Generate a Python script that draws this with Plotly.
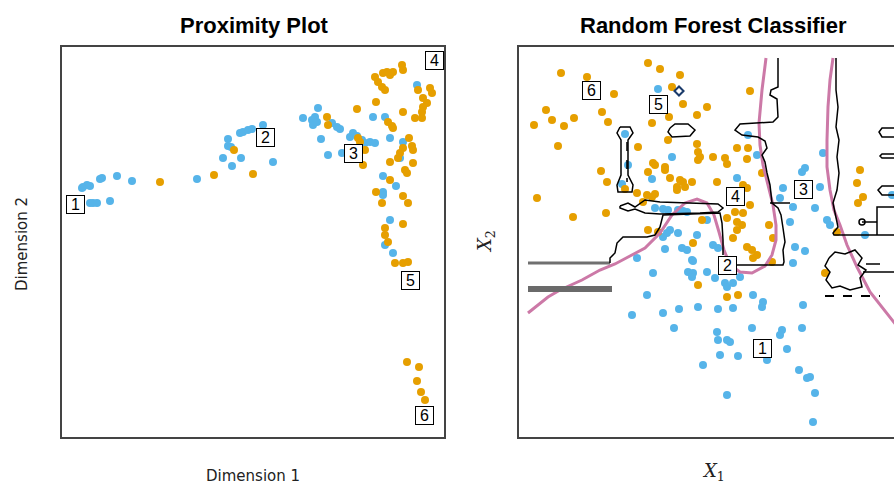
import plotly.graph_objects as go

W, H = 894, 486
BLUE = "#56B4E9"
ORANGE = "#E69F00"
PINK = "#CC79A7"

# ---------------- Proximity plot (MDS of RF proximities) ----------------
prox_blue_x = [21, 25, 28, 20, 40, 38, 55, 70, 31, 35, 28, 48, 135, 170, 161, 179, 166, 169,
               166, 178, 181, 186, 190, 201, 211, 241, 250, 253, 256, 251, 255, 270, 275, 278,
               259, 266, 280, 288, 291, 295, 300, 303, 308, 313, 311, 355, 323, 328, 341, 338,
               321, 334, 321, 321, 328, 323, 331]
prox_blue_y = [250, 252, 251, 249, 259, 258, 261, 256, 234, 234, 234, 236, 258, 271, 279, 279, 291, 290,
               298, 304, 305, 307, 308, 312, 275, 319, 317, 320, 329, 312, 315, 314, 310, 308,
               298, 282, 284, 300, 304, 301, 297, 294, 295, 294, 320, 352, 320, 299, 295, 279,
               261, 251, 245, 242, 217, 192, 184]
prox_orange_x = [98, 152, 191, 172, 265, 266, 296, 298, 303, 295, 301, 313, 316, 321, 325, 328, 331,
                 340, 341, 320, 323, 314, 356, 368, 370, 361, 365, 361, 360, 353, 360, 341, 326, 330,
                 331, 347, 350, 351, 341, 338, 336, 328, 351, 343, 345, 314, 328, 320, 341, 346, 341,
                 323, 323, 326, 333, 341, 346, 345, 357, 355, 359, 363]
prox_orange_y = [255, 262, 263, 287, 320, 312, 299, 295, 287, 328, 272, 360, 355, 364, 365, 362, 365,
                 372, 367, 350, 347, 335, 347, 349, 344, 339, 334, 330, 325, 319, 319, 325, 315, 311,
                 309, 299, 291, 287, 289, 284, 279, 275, 274, 267, 264, 245, 257, 234, 241, 234, 213,
                 209, 202, 195, 174, 174, 175, 75, 70, 56, 45, 37]
prox_label_x = [13, 203, 291, 372, 348, 362]
prox_label_y = [232, 299, 283, 376, 157, 22]
prox_label_text = ["1", "2", "3", "4", "5", "6"]

# ---------------- Random forest classifier on (X1, X2) ----------------
rf_blue_x = [139, 106, 153, 133, 109, 103, 159, 164, 149, 148, 159, 178, 229, 238, 218, 188, 264,
             261, 274, 271, 296, 301, 283, 286, 304, 308, 311, 346, 136, 144, 168, 151, 144, 163,
             168, 146, 118, 173, 199, 134, 169, 174, 173, 188, 196, 206, 208, 214, 128, 179, 234,
             244, 243, 214, 174, 113, 144, 160, 155, 184, 194, 221, 199, 274, 276, 286, 284, 283,
             233, 263, 261, 198, 199, 208, 211, 268, 201, 219, 248, 280, 288, 291, 296, 208, 294, 373]
rf_blue_y = [348, 303, 280, 258, 272, 253, 227, 226, 227, 204, 204, 202, 302, 282, 259, 217, 249,
             239, 230, 215, 229, 250, 265, 269, 284, 217, 212, 202, 229, 228, 225, 207, 200, 189,
             187, 188, 179, 177, 189, 164, 165, 164, 160, 165, 159, 154, 150, 154, 142, 130, 142,
             135, 130, 129, 176, 122, 124, 128, 109, 72, 192, 160, 128, 174, 190, 186, 132, 109,
             109, 107, 102, 105, 97, 97, 95, 88, 82, 81, 77, 67, 59, 60, 44, 42, 15, 242]
rf_orange_x = [42, 68, 129, 141, 161, 95, 27, 33, 45, 55, 15, 83, 89, 39, 153, 164, 150, 178, 133,
               149, 178, 179, 119, 136, 146, 82, 129, 151, 158, 164, 166, 179, 18, 54, 87, 128, 133,
               136, 124, 106, 118, 129, 183, 231, 188, 194, 206, 208, 218, 229, 228, 243, 198, 224,
               228, 231, 216, 224, 208, 218, 223, 250, 214, 341, 338, 344, 339, 318, 134, 146, 181,
               88, 161, 173, 158, 218, 254, 174, 228, 233, 238, 234, 179, 208, 219, 139, 253, 306]
rf_orange_y = [364, 360, 374, 368, 362, 343, 327, 317, 311, 319, 312, 325, 315, 291, 350, 333, 320,
               322, 314, 297, 293, 285, 290, 272, 270, 266, 265, 259, 250, 255, 250, 277, 239, 220,
               224, 242, 240, 243, 235, 248, 244, 207, 217, 346, 330, 280, 279, 273, 289, 289, 278,
               264, 255, 252, 249, 232, 225, 224, 219, 215, 212, 212, 199, 267, 254, 240, 234, 205,
               274, 267, 280, 255, 257, 255, 247, 207, 199, 194, 190, 187, 182, 179, 152, 140, 142,
               205, 175, 164]
rf_label_x = [72, 139, 216, 284, 208, 243]
rf_label_y = [346, 332, 240, 247, 172, 89]
rf_label_text = ["6", "5", "4", "3", "2", "1"]

# Bayes decision boundary
bayes_a_x = [247, 243, 240, 241, 244, 249, 254, 257, 257, 253, 246, 233, 221, 211, 205, 200, 195,
             188, 178, 166, 153, 141, 126, 111, 96, 81, 63, 41, 29, 9]
bayes_a_y = [379, 347, 314, 292, 272, 252, 232, 212, 197, 182, 171, 164, 165, 172, 187, 205, 222,
             234, 238, 234, 222, 204, 189, 181, 173, 167, 157, 147, 140, 124]
bayes_b_x = [314, 311, 309, 308, 308, 311, 315, 321, 328, 338, 351, 368, 381]
bayes_b_y = [379, 357, 330, 297, 270, 247, 227, 212, 192, 170, 145, 124, 107]

# Random forest decision boundary (0.5 contour pieces)
rf_main_x = [259, 259, 252, 251, 258, 259, 254, 221, 216, 223, 239, 246, 248, 243, 246, 248, 251,
             253, 259, 262, 264, 266, 264, 265, 264, 218]
rf_main_y = [379, 350, 347, 342, 338, 320, 315, 313, 307, 302, 300, 296, 289, 282, 275, 264, 252,
             234, 229, 222, 209, 195, 187, 175, 172, 172]
rf_tick_x = [251, 271]
rf_tick_y = [234, 234]
rf_mid_x = [204, 204, 203, 201, 144, 141, 136, 128, 104, 98, 96, 91, 91]
rf_mid_y = [182, 197, 214, 224, 222, 210, 202, 200, 200, 194, 184, 179, 174]
rf_bar_x = [101, 109, 116, 126, 141, 181, 199, 204, 199, 181, 141, 126, 116, 109, 101, 101]
rf_bar_y = [231, 234, 230, 237, 235, 234, 233, 229, 225, 224, 223, 224, 228, 226, 229, 231]
rf_col_x = [101, 111, 114, 109, 109, 114, 113, 99, 98, 102, 102, 98, 101]
rf_col_y = [310, 310, 304, 297, 262, 252, 245, 245, 252, 262, 297, 304, 310]
rf_blob_x = [151, 156, 169, 176, 171, 153, 149, 151]
rf_blob_y = [309, 313, 313, 307, 301, 300, 305, 309]
rf_right_x = [317, 317, 319, 317, 320, 318, 320, 318, 314, 318, 319, 314, 315, 375]
rf_right_y = [379, 347, 330, 310, 297, 280, 264, 247, 234, 217, 210, 204, 202, 202]
rf_branch_x = [358, 358, 375]
rf_branch_y = [202, 230, 230]
rf_stem_x = [343, 358]
rf_stem_y = [215, 215]
rf_stub1_x = [375, 363, 360, 363, 375]
rf_stub1_y = [309, 309, 305, 300, 300]
rf_stub2_x = [375, 363, 361, 363, 375]
rf_stub2_y = [283, 283, 281, 279, 279]
rf_stub3_x = [375, 363, 359, 363, 375]
rf_stub3_y = [251, 251, 247, 242, 242]
rf_cloud_x = [310, 316, 326, 336, 343, 339, 347, 341, 343, 331, 321, 313, 307, 311, 306, 310]
rf_cloud_y = [179, 185, 183, 187, 179, 172, 167, 159, 150, 147, 151, 149, 157, 165, 171, 179]
rf_arm1_x = [344, 375]
rf_arm1_y = [165, 165]
rf_arm2_x = [347, 361]
rf_arm2_y = [173, 173]
rf_dash_x = [306, 361]
rf_dash_y = [141, 141]
rf_coldash_x = [108, 108]
rf_coldash_y = [295, 255]
rf_grey1_x = [91, 9]
rf_grey1_y = [174, 174]
rf_grey2_x = [9, 93]
rf_grey2_y = [148, 148]

fig = go.Figure()


def pts(x, y, color, xa, ya):
    fig.add_trace(go.Scatter(x=x, y=y, mode="markers", xaxis=xa, yaxis=ya,
                             marker=dict(color=color, size=8, line=dict(width=0)),
                             hoverinfo="skip", showlegend=False))


def line(x, y, color="black", width=1.5, dash="solid", xa="x2", ya="y2"):
    fig.add_trace(go.Scatter(x=x, y=y, mode="lines", xaxis=xa, yaxis=ya,
                             line=dict(color=color, width=width, dash=dash),
                             hoverinfo="skip", showlegend=False))


# left panel points
pts(prox_blue_x, prox_blue_y, BLUE, "x", "y")
pts(prox_orange_x, prox_orange_y, ORANGE, "x", "y")

# right panel points
pts(rf_blue_x, rf_blue_y, BLUE, "x2", "y2")
pts(rf_orange_x, rf_orange_y, ORANGE, "x2", "y2")

# Bayes boundary
line(bayes_a_x, bayes_a_y, PINK, 3)
line(bayes_b_x, bayes_b_y, PINK, 3)

# forest boundary
line(rf_grey1_x, rf_grey1_y, "#707070", 3)
line(rf_grey2_x, rf_grey2_y, "#6a6a6a", 6)
for px, py in [(rf_main_x, rf_main_y), (rf_tick_x, rf_tick_y), (rf_mid_x, rf_mid_y),
               (rf_bar_x, rf_bar_y), (rf_col_x, rf_col_y), (rf_blob_x, rf_blob_y),
               (rf_right_x, rf_right_y), (rf_branch_x, rf_branch_y), (rf_stem_x, rf_stem_y),
               (rf_stub1_x, rf_stub1_y), (rf_stub2_x, rf_stub2_y), (rf_stub3_x, rf_stub3_y),
               (rf_cloud_x, rf_cloud_y), (rf_arm1_x, rf_arm1_y), (rf_arm2_x, rf_arm2_y)]:
    line(px, py)
line(rf_dash_x, rf_dash_y, "black", 2, "dash")
line(rf_coldash_x, rf_coldash_y, "black", 1.5, "dash")
fig.add_trace(go.Scatter(x=[343], y=[215], mode="markers", xaxis="x2", yaxis="y2",
                         marker=dict(symbol="circle-open", size=6, color="black", line=dict(width=1.5)),
                         hoverinfo="skip", showlegend=False))
fig.add_trace(go.Scatter(x=[160], y=[346], mode="markers", xaxis="x2", yaxis="y2",
                         marker=dict(symbol="diamond-open", size=7, color="#1a3a6a", line=dict(width=2)),
                         hoverinfo="skip", showlegend=False))

# boxed case labels
annotations = []
for xs, ys, ts, xr, yr in [(prox_label_x, prox_label_y, prox_label_text, "x", "y"),
                           (rf_label_x, rf_label_y, rf_label_text, "x2", "y2")]:
    for xv, yv, tv in zip(xs, ys, ts):
        annotations.append(dict(x=xv, y=yv, xref=xr, yref=yr, text=tv, showarrow=False,
                                font=dict(family="Liberation Sans, Arial", size=16, color="black"),
                                bgcolor="white", bordercolor="black", borderwidth=1,
                                borderpad=0, width=17, height=17))

title_font = dict(family="Liberation Sans, Arial", size=22, color="black")
lab_font = dict(family="DejaVu Sans", size=15, color="#222")
math_font = dict(family="DejaVu Serif", size=18, color="#222")
annotations += [
    dict(x=254 / W, y=1 - 26 / H, xref="paper", yref="paper", text="<b>Proximity Plot</b>",
         showarrow=False, font=title_font, xanchor="center", yanchor="middle"),
    dict(x=713 / W, y=1 - 26 / H, xref="paper", yref="paper", text="<b>Random Forest Classifier</b>",
         showarrow=False, font=title_font, xanchor="center", yanchor="middle"),
    dict(x=253 / W, y=1 - 476 / H, xref="paper", yref="paper", text="Dimension 1",
         showarrow=False, font=lab_font, xanchor="center", yanchor="middle"),
    dict(x=22 / W, y=1 - 244 / H, xref="paper", yref="paper", text="Dimension 2", textangle=-90,
         showarrow=False, font=lab_font, xanchor="center", yanchor="middle"),
    dict(x=713 / W, y=1 - 472 / H, xref="paper", yref="paper", text="<i>X</i><sub>1</sub>",
         showarrow=False, font=math_font, xanchor="center", yanchor="middle"),
    dict(x=486 / W, y=1 - 242 / H, xref="paper", yref="paper", text="<i>X</i><sub>2</sub>",
         textangle=-90, showarrow=False, font=math_font, xanchor="center", yanchor="middle"),
]

frame = dict(showline=True, linecolor="#444", linewidth=2, showticklabels=False, ticks="",
             showgrid=False, zeroline=False, fixedrange=True)
ydom = [(H - 437) / H, (H - 47) / H]
fig.update_layout(
    width=W, height=H, margin=dict(l=0, r=0, t=0, b=0),
    paper_bgcolor="white", plot_bgcolor="white",
    xaxis=dict(frame, domain=[62 / W, 444 / W], range=[0, 382], mirror=True),
    yaxis=dict(frame, domain=ydom, range=[0, 390], mirror=True),
    xaxis2=dict(frame, domain=[519 / W, 1.0], range=[0, 375], mirror=True, anchor="y2"),
    yaxis2=dict(frame, domain=ydom, range=[0, 390], mirror=False, anchor="x2"),
    annotations=annotations,
)

fig.write_html("out.html")
